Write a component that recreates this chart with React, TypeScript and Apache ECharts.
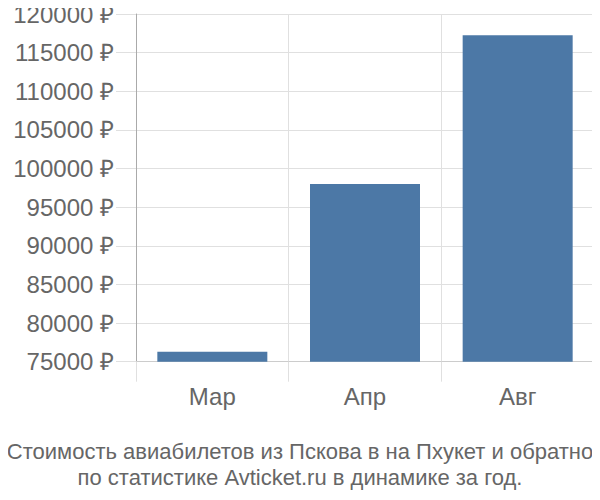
import React, { useEffect, useRef } from "react";
import * as echarts from "echarts";

const categories = ["Мар", "Апр", "Авг"];
const prices = [76300, 98000, 117250];
const yMin = 75000;
const yMax = 120000;
const yStep = 5000;
const titleLines = [
  "Стоимость авиабилетов из Пскова в на Пхукет и обратно",
  "по статистике Avticket.ru в динамике за год.",
];

export default function App() {
  const ref = useRef<HTMLDivElement>(null);
  useEffect(() => {
    if (!ref.current) return;
    const chart = echarts.init(ref.current, undefined, { renderer: "svg" });
    const font = "'Liberation Sans', Arial, sans-serif";
    chart.setOption({
      animation: false,
      title: {
        text: titleLines.join("\n"),
        left: "center",
        top: 433,
        textStyle: {
          color: "#666",
          fontSize: 22,
          fontWeight: "normal",
          fontFamily: font,
          lineHeight: 26,
        },
      },
      grid: { left: 136, right: 6, top: 14, bottom: 138.3, containLabel: false },
      xAxis: {
        type: "category",
        data: categories,
        axisLine: { show: true, lineStyle: { color: "#ccc", width: 1 } },
        axisTick: { show: true, length: 20, lineStyle: { color: "#e0e0e0" } },
        splitLine: { show: true, lineStyle: { color: "#e0e0e0" } },
        axisLabel: { color: "#666", fontSize: 24, fontFamily: font, margin: 23 },
      },
      yAxis: {
        type: "value",
        min: yMin,
        max: yMax,
        interval: yStep,
        axisLine: { show: true, lineStyle: { color: "#aaa", width: 1 } },
        axisTick: { show: true, length: 20, lineStyle: { color: "#e0e0e0" } },
        splitLine: { show: true, lineStyle: { color: "#e0e0e0" } },
        axisLabel: {
          color: "#666",
          fontSize: 24,
          fontFamily: font,
          margin: 22,
          formatter: (v: number) => v + " ₽",
        },
      },
      series: [
        {
          type: "bar",
          data: prices,
          barWidth: 110,
          itemStyle: { color: "#4c78a6" },
        },
      ],
    });
    return () => chart.dispose();
  }, []);
  return <div ref={ref} style={{ width: 600, height: 500, margin: -8 }} />;
}
